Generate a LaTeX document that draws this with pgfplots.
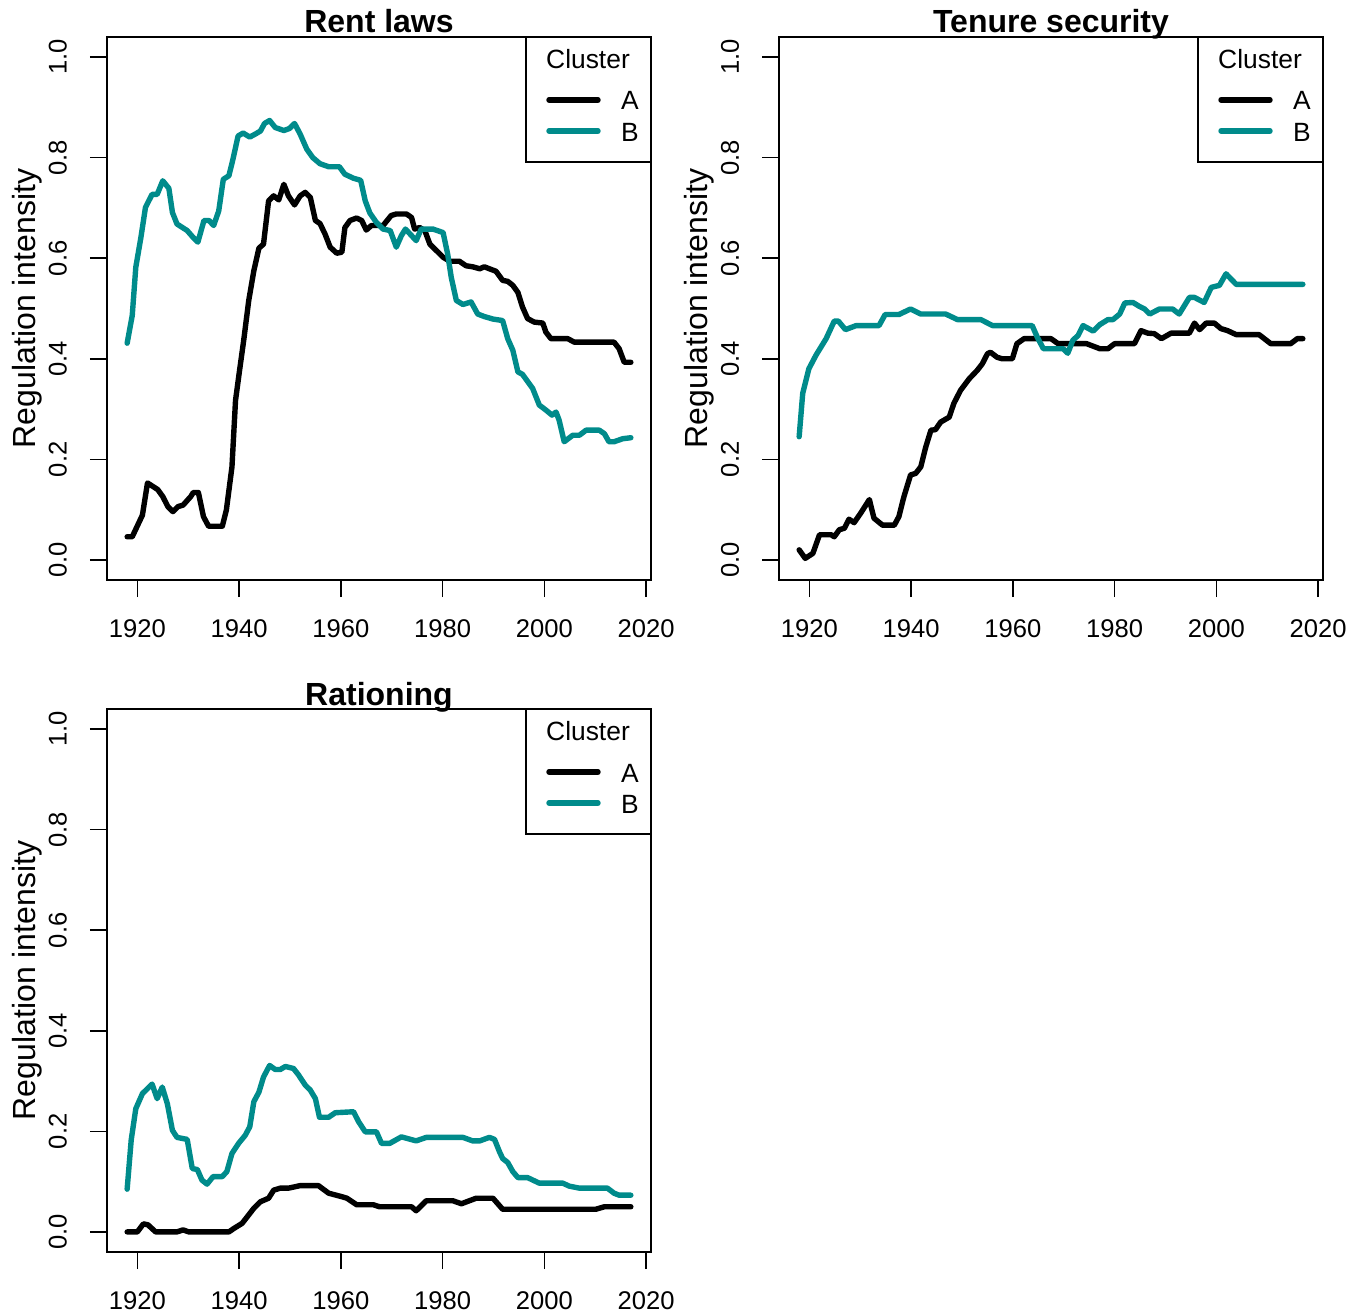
\documentclass[border=0pt]{standalone}
\usepackage{fontspec}
\setmainfont{Liberation Sans}
\usepackage{pgfplots}
\pgfplotsset{compat=1.18}
\definecolor{clB}{RGB}{0,139,139}

\pgfplotsset{
 rstyle/.style={
  scale only axis, width=272pt, height=271.5pt,
  xmin=1914.04, xmax=2020.96, ymin=-0.04, ymax=1.04,
  xtick={1920,1940,1960,1980,2000,2020}, ytick={0,0.2,0.4,0.6,0.8,1.0},
  xtick pos=left, ytick pos=left,
  tick align=outside, major tick length=8.5pt,
  axis line style={line width=0.8pt}, tick style={line width=0.8pt, black},
  /pgf/number format/assume math mode=true,
  xticklabel style={font=\fontsize{12.8}{15}\selectfont, /pgf/number format/1000 sep={}, anchor=north, inner sep=0pt},
  xticklabel shift=11pt,
  yticklabel style={font=\fontsize{12.8}{15}\selectfont, rotate=90, anchor=south, inner sep=0pt,
     /pgf/number format/fixed, /pgf/number format/precision=1, /pgf/number format/fixed zerofill},
  yticklabel shift=11.3pt,
  ylabel={Regulation intensity},
  ylabel style={font=\fontsize{16}{19}\selectfont, at={([xshift=-40pt]rel axis cs:0,0.5)}, anchor=center, inner sep=0pt},
  title style={font=\bfseries\fontsize{16}{19}\selectfont, at={(rel axis cs:0.5,1)}, anchor=base, yshift=-4pt, inner sep=0pt},
  every axis plot/.append style={line width=2.7pt, line cap=round, line join=round, no markers},
 }
}

\newcommand\clegend[1]{%
 \draw[line width=0.8pt] ([xshift=-62.5pt]#1.north east) rectangle ([yshift=-62.5pt]#1.north east);
 \node[font=\fontsize{13.2}{15}\selectfont, anchor=center, inner sep=0pt] at ([xshift=-31.5pt,yshift=-10.9pt]#1.north east) {Cluster};
 \draw[line width=2.7pt, line cap=round, black] ([xshift=-51pt,yshift=-31.5pt]#1.north east) -- ([xshift=-26.5pt,yshift=-31.5pt]#1.north east);
 \node[font=\fontsize{13.2}{15}\selectfont, anchor=base, inner sep=0pt] at ([xshift=-10.5pt,yshift=-36.5pt]#1.north east) {A};
 \draw[line width=2.7pt, line cap=round, clB] ([xshift=-51pt,yshift=-47pt]#1.north east) -- ([xshift=-26.5pt,yshift=-47pt]#1.north east);
 \node[font=\fontsize{13.2}{15}\selectfont, anchor=base, inner sep=0pt] at ([xshift=-10.5pt,yshift=-52.3pt]#1.north east) {B};
}

\begin{document}
\begin{tikzpicture}
\useasboundingbox (0,0) rectangle (683pt,-658pt);

% ---------------- Rent laws ----------------
\begin{axis}[rstyle, name=p1, at={(53.5pt,-18.5pt)}, anchor=north west, title={Rent laws}]
\addplot[black] coordinates {(1918,0.046)(1919,0.046)(1921,0.089)(1922,0.153)(1924,0.140)(1925,0.126)(1926,0.106)(1927,0.096)(1928,0.106)(1929,0.109)(1930.5,0.126)(1931,0.134)(1932,0.134)(1933,0.086)(1934,0.067)(1935.4,0.067)(1936.7,0.067)(1937.5,0.099)(1938.6,0.185)(1939.3,0.317)(1940,0.37)(1940.9,0.436)(1941.9,0.516)(1942.9,0.575)(1943.9,0.62)(1944.8,0.628)(1945.8,0.714)(1946.8,0.724)(1947.8,0.716)(1948.8,0.747)(1949.7,0.724)(1950.9,0.706)(1952,0.724)(1953,0.731)(1954,0.721)(1955,0.675)(1955.9,0.669)(1956.9,0.648)(1957.9,0.622)(1959.2,0.61)(1960.2,0.612)(1960.8,0.661)(1961.8,0.675)(1963.1,0.68)(1964.1,0.675)(1965,0.656)(1966,0.665)(1968.3,0.665)(1969.9,0.685)(1970.9,0.688)(1972.9,0.688)(1973.9,0.681)(1974.5,0.658)(1975.5,0.661)(1976.5,0.655)(1977.5,0.628)(1978.8,0.615)(1980.1,0.602)(1981.4,0.594)(1983.3,0.594)(1984.6,0.585)(1985.9,0.583)(1987.3,0.579)(1988.2,0.583)(1989.2,0.579)(1990.5,0.574)(1991.8,0.556)(1992.8,0.554)(1993.8,0.546)(1994.8,0.532)(1995.7,0.503)(1996.7,0.48)(1998,0.473)(1999.7,0.471)(2000.3,0.453)(2001.3,0.44)(2004.6,0.44)(2005.9,0.433)(2013.7,0.433)(2014.7,0.42)(2015.7,0.393)(2017,0.393)};
\addplot[clB] coordinates {(1918,0.431)(1919,0.486)(1919.7,0.582)(1920.7,0.641)(1921.6,0.701)(1922.9,0.727)(1923.9,0.727)(1925,0.754)(1926.2,0.739)(1926.9,0.691)(1927.8,0.668)(1929.8,0.655)(1931,0.641)(1931.9,0.632)(1933.1,0.675)(1934.1,0.675)(1935,0.665)(1936,0.694)(1936.9,0.757)(1938,0.764)(1938.8,0.797)(1939.8,0.843)(1940.8,0.849)(1942.1,0.841)(1943.2,0.847)(1944.2,0.853)(1945,0.868)(1946,0.874)(1947.1,0.86)(1948.8,0.854)(1949.9,0.858)(1950.9,0.868)(1952,0.847)(1953.3,0.817)(1954.5,0.80)(1955.9,0.788)(1957.6,0.782)(1959.7,0.782)(1960.8,0.767)(1962.5,0.759)(1963.9,0.755)(1964.8,0.714)(1965.7,0.690)(1967,0.671)(1968.3,0.658)(1969.7,0.655)(1970.9,0.622)(1971.9,0.645)(1972.7,0.658)(1973.9,0.645)(1974.8,0.635)(1975.8,0.658)(1978.1,0.658)(1980.1,0.651)(1981,0.608)(1981.7,0.562)(1982.7,0.516)(1984,0.508)(1985.6,0.513)(1986.9,0.489)(1988.2,0.484)(1989.9,0.479)(1991.8,0.476)(1992.8,0.44)(1993.8,0.417)(1994.8,0.374)(1995.7,0.369)(1997.7,0.341)(1999,0.308)(2000.3,0.298)(2001.5,0.288)(2002.3,0.294)(2002.9,0.278)(2003.9,0.235)(2005.6,0.248)(2006.9,0.248)(2008.2,0.258)(2010.8,0.258)(2011.8,0.251)(2012.7,0.235)(2013.7,0.235)(2015.4,0.241)(2017,0.243)};
\end{axis}
\clegend{p1}

% ---------------- Tenure security ----------------
\begin{axis}[rstyle, name=p2, at={(389.5pt,-18.5pt)}, anchor=north west, title={Tenure security}]
\addplot[black] coordinates {(1918,0.02)(1919.2,0.003)(1920.7,0.013)(1922,0.05)(1924.3,0.05)(1924.9,0.046)(1925.9,0.06)(1926.9,0.063)(1927.8,0.081)(1928.8,0.074)(1930.1,0.093)(1931.8,0.12)(1932.7,0.083)(1934.4,0.069)(1936.7,0.069)(1937.6,0.086)(1938.6,0.126)(1939.9,0.169)(1940.9,0.172)(1941.9,0.185)(1942.9,0.225)(1943.9,0.258)(1944.8,0.259)(1945.8,0.274)(1947.5,0.284)(1948.4,0.311)(1949.7,0.337)(1951.4,0.36)(1953,0.377)(1954,0.39)(1955,0.41)(1955.6,0.413)(1956.9,0.403)(1957.9,0.40)(1959.9,0.40)(1960.8,0.43)(1962.2,0.44)(1967.5,0.44)(1968.9,0.43)(1974.5,0.43)(1977.1,0.42)(1978.7,0.42)(1980,0.43)(1983.9,0.43)(1985.2,0.456)(1986.5,0.451)(1987.8,0.45)(1989.2,0.44)(1991.1,0.451)(1994.7,0.451)(1995.7,0.471)(1996.7,0.458)(1998,0.471)(1999.6,0.471)(2000.9,0.46)(2002.2,0.456)(2003.9,0.448)(2008.4,0.448)(2010.7,0.43)(2014.6,0.43)(2015.9,0.44)(2017,0.44)};
\addplot[clB] coordinates {(1918,0.245)(1918.7,0.331)(1919.9,0.38)(1921.3,0.407)(1923.3,0.44)(1924.9,0.475)(1925.7,0.475)(1927.1,0.458)(1929.2,0.466)(1933.7,0.466)(1934.9,0.488)(1937.6,0.488)(1939.9,0.499)(1941.9,0.489)(1946.8,0.489)(1949.1,0.478)(1953.7,0.478)(1956,0.466)(1963.8,0.466)(1964.8,0.443)(1966,0.42)(1969.9,0.42)(1970.8,0.411)(1971.8,0.437)(1972.8,0.446)(1973.8,0.466)(1975.8,0.455)(1977.1,0.468)(1978.7,0.478)(1979.7,0.478)(1981,0.489)(1982,0.511)(1983.6,0.512)(1984.9,0.504)(1985.9,0.499)(1986.9,0.489)(1988.8,0.499)(1991.4,0.499)(1992.7,0.489)(1994.7,0.522)(1995.7,0.522)(1997.6,0.512)(1999,0.542)(2000.6,0.546)(2001.9,0.569)(2003.9,0.548)(2017,0.548)};
\end{axis}
\clegend{p2}

% ---------------- Rationing ----------------
\begin{axis}[rstyle, name=p3, at={(53.5pt,-354.5pt)}, anchor=north west, title={Rationing}]
\addplot[black] coordinates {(1918,0)(1920,0)(1921.2,0.016)(1922.1,0.014)(1923.6,0)(1927.8,0)(1929,0.004)(1930.1,0)(1938,0)(1939,0.007)(1940.6,0.017)(1941.6,0.03)(1942.9,0.047)(1944.2,0.06)(1945.8,0.067)(1946.8,0.083)(1948.1,0.087)(1949.7,0.087)(1952,0.092)(1955.6,0.092)(1957.6,0.077)(1960.2,0.07)(1961.2,0.067)(1963.1,0.054)(1966.4,0.054)(1967.6,0.05)(1973.9,0.05)(1974.8,0.042)(1976.8,0.062)(1982,0.062)(1983.7,0.056)(1986.6,0.067)(1989.9,0.067)(1991.8,0.045)(2010.1,0.045)(2011.8,0.05)(2017,0.05)};
\addplot[clB] coordinates {(1918,0.085)(1918.8,0.183)(1919.7,0.245)(1921,0.275)(1922.9,0.294)(1923.9,0.265)(1924.9,0.288)(1925.9,0.255)(1926.9,0.202)(1927.8,0.188)(1929.8,0.184)(1930.8,0.126)(1931.8,0.124)(1932.7,0.103)(1933.7,0.095)(1934.9,0.11)(1936.7,0.11)(1937.6,0.12)(1938.6,0.156)(1939.9,0.176)(1941.2,0.192)(1942.1,0.209)(1942.9,0.259)(1943.9,0.278)(1944.8,0.308)(1946,0.331)(1947.1,0.323)(1948.1,0.323)(1949.1,0.329)(1950.7,0.325)(1951.7,0.312)(1953,0.292)(1954,0.282)(1955,0.265)(1955.8,0.228)(1957.6,0.228)(1958.9,0.237)(1962.5,0.239)(1963.5,0.219)(1964.8,0.199)(1967,0.199)(1968,0.176)(1969.6,0.176)(1971.9,0.189)(1974.8,0.181)(1976.8,0.188)(1984,0.188)(1985.9,0.181)(1987.3,0.181)(1989.2,0.188)(1990.2,0.184)(1991.2,0.159)(1991.8,0.146)(1992.8,0.138)(1993.8,0.12)(1994.8,0.108)(1996.7,0.108)(1999,0.097)(2003.6,0.097)(2004.9,0.091)(2006.9,0.087)(2012.4,0.087)(2013.7,0.077)(2014.7,0.073)(2017,0.073)};
\end{axis}
\clegend{p3}
\end{tikzpicture}
\end{document}
